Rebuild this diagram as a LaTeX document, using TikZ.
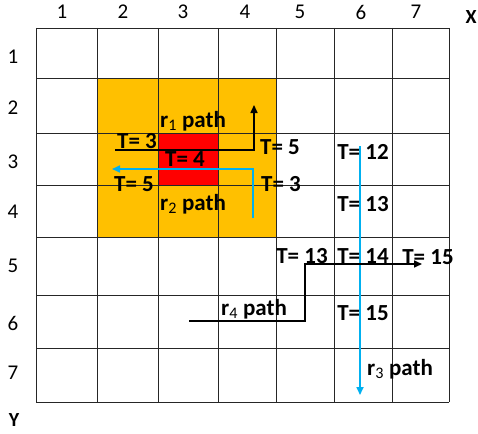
\documentclass[tikz,border=0pt]{standalone}
\usepackage{fontspec}
\setmainfont{Carlito}
\usetikzlibrary{arrows.meta}
\definecolor{zoneorange}{HTML}{FFC000}
\definecolor{zonered}{HTML}{FF0000}
\definecolor{pathblue}{HTML}{00B0F0}

\tikzset{
  gridline/.style={black!85,line width=0.8pt},
  axislabel/.style={font=\fontsize{21}{21}\selectfont,inner sep=0pt},
  axisname/.style={font=\bfseries\fontsize{20}{20}\selectfont,inner sep=0pt},
  tlabel/.style={font=\bfseries\fontsize{23}{23}\selectfont,inner sep=0pt},
  robotpath/.style={line width=1.6pt,-{Triangle[length=8pt,width=7pt]}},
}

\begin{document}
\begin{tikzpicture}[x=1pt,y=-1pt]
  \useasboundingbox (0,0) rectangle (478,433);

  % Occupied zones
  \fill[zoneorange] (97,78) rectangle (276,237);
  \fill[zonered] (158,133) rectangle (218,185);

  % Grid
  \foreach \x in {36,97,158,218,276,334,392,449}
    \draw[gridline] (\x,28) -- (\x,402);
  \foreach \y in {28,78,133,185,237,295,348,402}
    \draw[gridline] (36,\y) -- (449,\y);

  % Column and row numbers
  \foreach \n/\x in {1/62,2/123,3/183,4/245,5/300,6/361,7/416}
    \node[axislabel] (col\n) at (\x,12) {\n};
  \foreach \n/\y in {1/57,2/108,3/162,4/212,5/266,6/323,7/373}
    \node[axislabel] (row\n) at (13,\y) {\n};
  \node[axisname] (xaxis) at (471,17) {X};
  \node[axisname] (yaxis) at (14,420) {Y};

  % Way points of the robot paths
  \coordinate (r1s) at (115,150);
  \coordinate (r1c) at (254,150);
  \coordinate (r1e) at (254,105);
  \coordinate (r2s) at (253,218);
  \coordinate (r2c) at (253,169);
  \coordinate (r2e) at (112,169);
  \coordinate (r3s) at (360,146);
  \coordinate (r3e) at (360,395);
  \coordinate (r4s) at (189,321);
  \coordinate (r4a) at (305,321);
  \coordinate (r4b) at (305,264);
  \coordinate (r4e) at (422,264);

  % Robot paths
  \draw[robotpath,black] (r1s) -- (r1c) -- (r1e);
  \draw[robotpath,pathblue] (r2s) -- (r2c) -- (r2e);
  \draw[robotpath,pathblue] (r3s) -- (r3e);
  \draw[robotpath,black] (r4s) -- (r4a) -- (r4b) -- (r4e);

  % Path names
  \node[tlabel] (r1name) at (193,121) {r\textsubscript{\mdseries 1} path};
  \node[tlabel] (r2name) at (193,204) {r\textsubscript{\mdseries 2} path};
  \node[tlabel] (r3name) at (400,369) {r\textsubscript{\mdseries 3} path};
  \node[tlabel] (r4name) at (254,309) {r\textsubscript{\mdseries 4} path};

  % Time stamps
  \node[tlabel] (t1) at (137,141) {T= 3};
  \node[tlabel] (t2) at (185,159) {T= 4};
  \node[tlabel] (t3) at (134,184) {T= 5};
  \node[tlabel] (t4) at (280,147) {T= 5};
  \node[tlabel] (t5) at (281,184) {T= 3};
  \node[tlabel] (t6) at (363,152) {T= 12};
  \node[tlabel] (t7) at (363,204) {T= 13};
  \node[tlabel] (t8) at (302,256) {T= 13};
  \node[tlabel] (t9) at (363,256) {T= 14};
  \node[tlabel] (t10) at (428,257) {T= 15};
  \node[tlabel] (t11) at (363,313) {T= 15};
\end{tikzpicture}
\end{document}
